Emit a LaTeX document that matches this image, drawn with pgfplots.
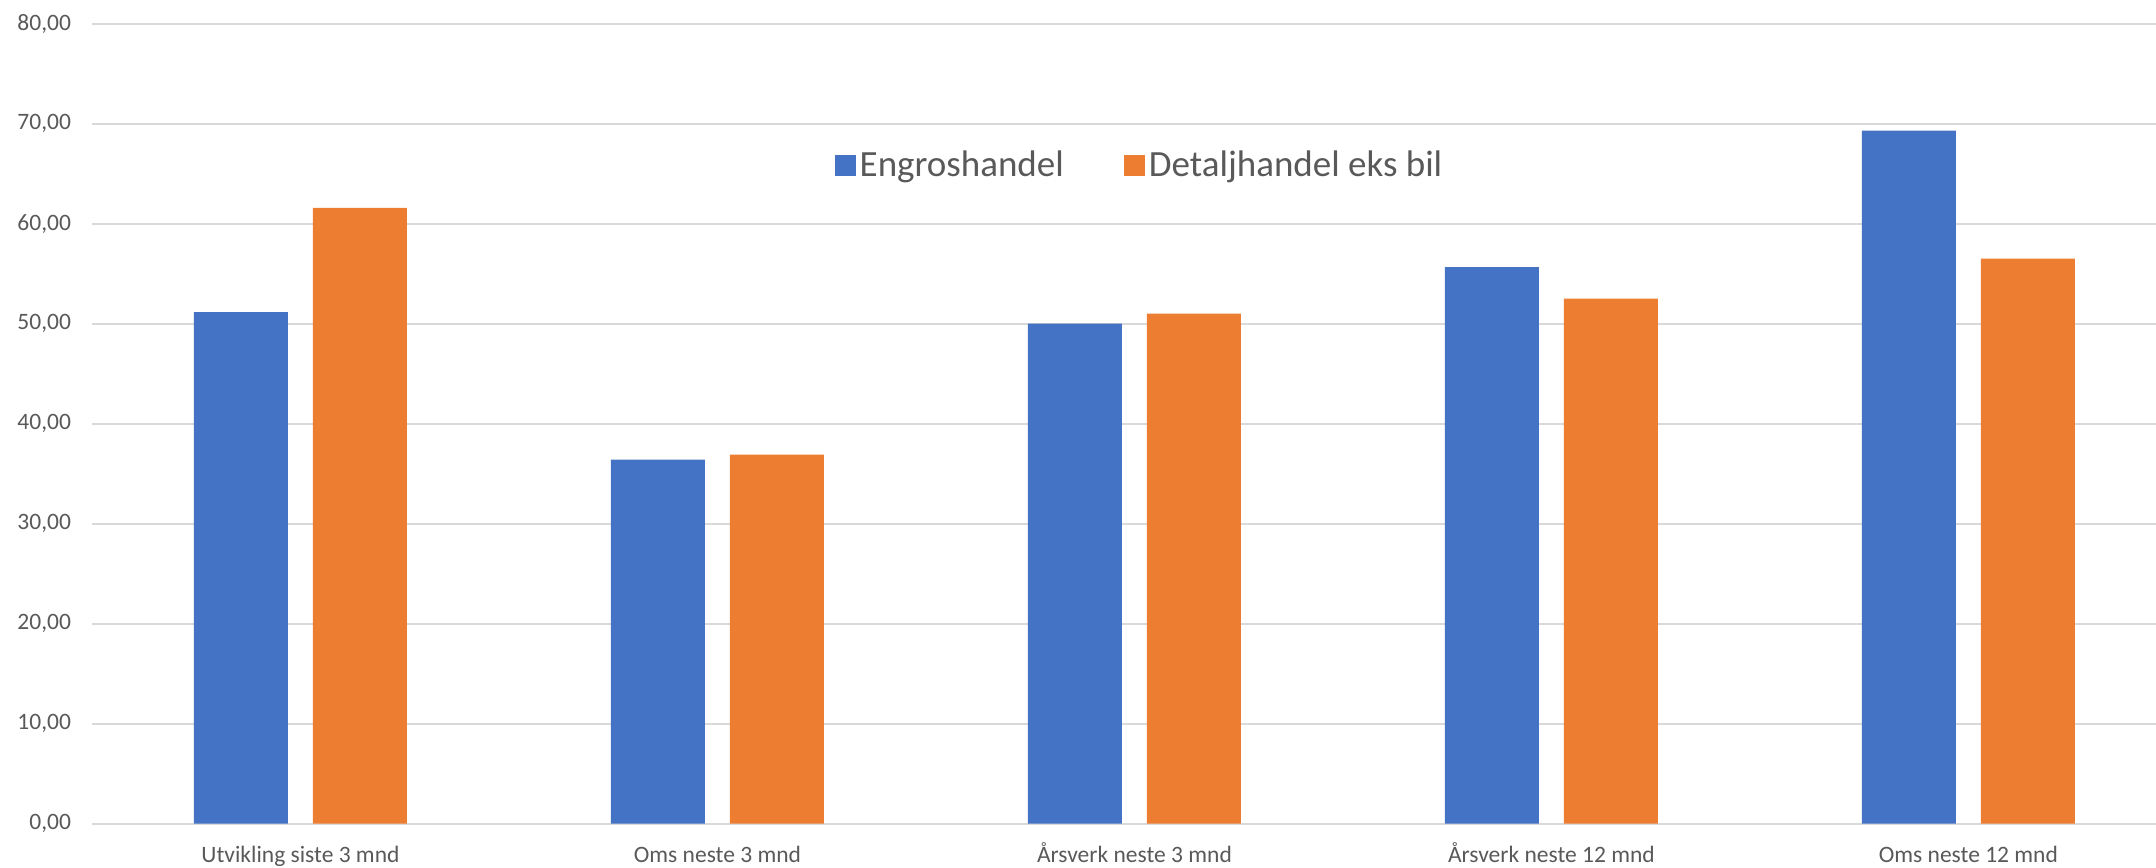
\documentclass[border=0pt]{standalone}
\usepackage{pgfplots}
\pgfplotsset{compat=1.18}
\usepackage{fontspec}
\setmainfont{Carlito}
\definecolor{cblue}{HTML}{4472C4}
\definecolor{corange}{HTML}{ED7D31}
\definecolor{cgrid}{HTML}{D9D9D9}
\definecolor{ctext}{HTML}{595959}
\begin{document}
\begin{tikzpicture}
\begin{axis}[
  name=ax,
  scale only axis,
  width=1032pt, height=400pt,
  xmin=-0.5, xmax=4.45,
  ymin=0, ymax=80,
  ytick={0,10,...,80},
  xtick={0,1,2,3,4},
  xticklabels={Utvikling siste 3 mnd, Oms neste 3 mnd, Årsverk neste 3 mnd, Årsverk neste 12 mnd, Oms neste 12 mnd},
  ymajorgrids,
  major grid style={draw=cgrid, line width=1pt},
  axis line style={draw=none},
  major tick length=0pt,
  tick label style={font=\fontsize{11.75}{14}\selectfont, text=ctext},
  yticklabel style={xshift=-7pt},
  xticklabel style={anchor=base, yshift=-19.5pt},
  /pgf/number format/assume math mode=true,
  yticklabel={\pgfmathprintnumber[fixed,fixed zerofill,precision=2,use comma]{\tick}},
  legend columns=2,
  legend style={draw=none, fill=none, at={(0.508,0.823)}, anchor=center,
    font=\fontsize{18.5}{22}\selectfont, text=ctext,
    /tikz/every even column/.append style={column sep=28pt}},
  legend image code/.code={\fill[#1] (0pt,-5.25pt) rectangle (10.5pt,5.25pt);},
  clip=false,
]
\addplot[ybar, bar width=47pt, bar shift=-29.75pt, fill=cblue, draw=none] coordinates {
  (0,51.14) (1,36.4) (2,50.0) (3,55.64) (4,69.3)};
\addlegendentry{Engroshandel}
\addplot[ybar, bar width=47pt, bar shift=29.75pt, fill=corange, draw=none] coordinates {
  (0,61.57) (1,36.9) (2,51.0) (3,52.5) (4,56.5)};
\addlegendentry{Detaljhandel eks bil}
\end{axis}
\pgfresetboundingbox
\path ([xshift=-46pt,yshift=-21.7pt]ax.south west) rectangle ([yshift=11.8pt]ax.north east);
\end{tikzpicture}
\end{document}
